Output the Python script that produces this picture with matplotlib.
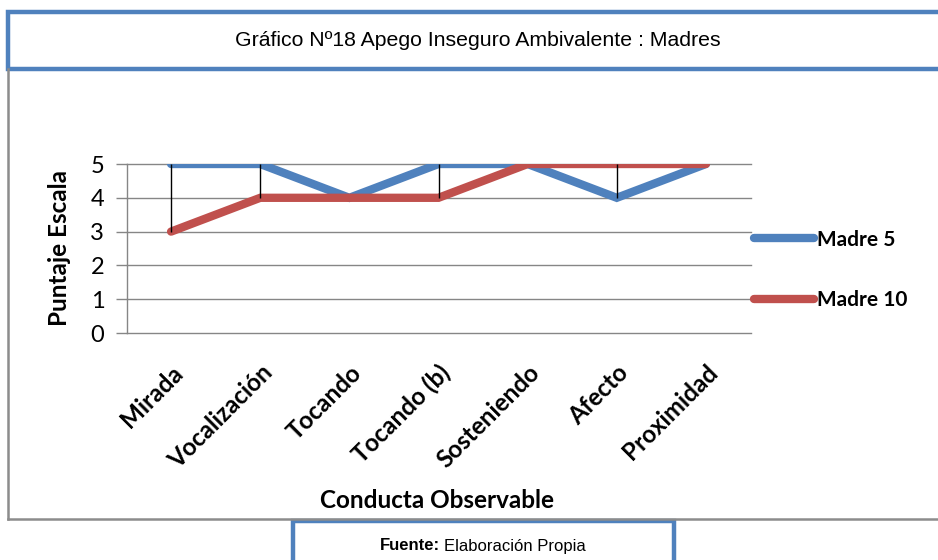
import matplotlib
matplotlib.use("Agg")
import matplotlib.pyplot as plt
import matplotlib.transforms as mtransforms
from matplotlib.patches import Rectangle
from matplotlib.lines import Line2D

# datos
categorias = ["Mirada", "Vocalización", "Tocando", "Tocando (b)",
              "Sosteniendo", "Afecto", "Proximidad"]
madre5 = [5, 5, 4, 5, 5, 4, 5]
madre10 = [3, 4, 4, 4, 5, 5, 5]
yticks = [0, 1, 2, 3, 4, 5]

W, H = 938, 560
azul = "#4F81BD"
rojo = "#C0504D"
gris = "#868686"
fuente = "Lato"

def fx(x):
    return x / W

def fy(y):
    return 1 - y / H

fig = plt.figure(figsize=(W / 100, H / 100), dpi=100)

# marco gris del grafico
fig.add_artist(Line2D([fx(8), fx(8)], [fy(69), fy(519)], color="#8c8c8c", lw=1.8))
fig.add_artist(Line2D([fx(8), fx(940)], [fy(519), fy(519)], color="#8c8c8c", lw=1.8))

# caja del titulo
fig.add_artist(Rectangle((fx(8), fy(69)), fx(945) - fx(8), fy(12) - fy(69),
                         transform=fig.transFigure, fill=True, facecolor="white",
                         edgecolor=azul, lw=3.2))
fig.text(fx(478), fy(40), "Gráfico Nº18 Apego Inseguro Ambivalente : Madres",
         ha="center", va="center", fontsize=15.3, family="Liberation Sans")

ax = fig.add_axes([fx(126.5), fy(333), fx(750.5) - fx(126.5), fy(164) - fy(333)])
x = list(range(len(categorias)))

# lineas max-min
for i in x:
    lo, hi = min(madre5[i], madre10[i]), max(madre5[i], madre10[i])
    if hi > lo:
        ax.vlines(i, lo, hi, color="black", lw=1, zorder=4)

ax.plot(x, madre5, color=azul, lw=6, solid_capstyle="round",
        solid_joinstyle="miter", label="Madre 5", zorder=3)
ax.plot(x, madre10, color=rojo, lw=6, solid_capstyle="round",
        solid_joinstyle="miter", label="Madre 10", zorder=3)

ax.set_xlim(-0.5, len(categorias) - 0.5)
ax.set_ylim(0, 5)
ax.set_yticks(yticks)
ax.set_yticklabels([str(v) for v in yticks], fontsize=17, family=fuente)
ax.set_xticks(x)
ax.set_xticklabels(categorias, rotation=45, ha="right", rotation_mode="anchor",
                   fontsize=17.5, fontweight="bold", family=fuente)
desp = mtransforms.ScaledTranslation(10 / 100, 0, fig.dpi_scale_trans)
for lab in ax.get_xticklabels():
    lab.set_transform(lab.get_transform() + desp)
ax.tick_params(axis="x", length=0, pad=20)
ax.tick_params(axis="y", length=8, color=gris, width=1, pad=8)
ax.grid(axis="y", color=gris, lw=1)
for g in ax.get_ygridlines():
    g.set_clip_on(False)
ax.set_axisbelow(True)
for s in ["top", "right", "bottom"]:
    ax.spines[s].set_visible(False)
ax.spines["left"].set_color(gris)
ax.spines["left"].set_linewidth(1)

ax.set_ylabel("Puntaje Escala", fontsize=17.5, fontweight="bold", family=fuente, labelpad=14)
fig.text(fx(437), fy(500), "Conducta Observable", ha="center", va="center",
         fontsize=17.5, fontweight="bold", family=fuente)

leg = ax.legend(loc="center left", bbox_to_anchor=(fx(735), fy(270)),
                bbox_transform=fig.transFigure, frameon=False,
                prop={"family": fuente, "weight": "bold", "size": 15},
                handlelength=2.9, handletextpad=0.15, labelspacing=1.95)

# caja de la fuente
fig.add_artist(Rectangle((fx(293), fy(575)), fx(674) - fx(293), fy(521) - fy(575),
                         transform=fig.transFigure, fill=True, facecolor="white",
                         edgecolor=azul, lw=3.2, clip_on=False))
fig.text(fx(440), fy(546), "Fuente:", ha="right", va="center",
         fontsize=12, fontweight="bold", family="Liberation Sans")
fig.text(fx(444), fy(546), "Elaboración Propia", ha="left", va="center",
         fontsize=12, family="Liberation Sans")

fig.savefig("out.png", dpi=100)
